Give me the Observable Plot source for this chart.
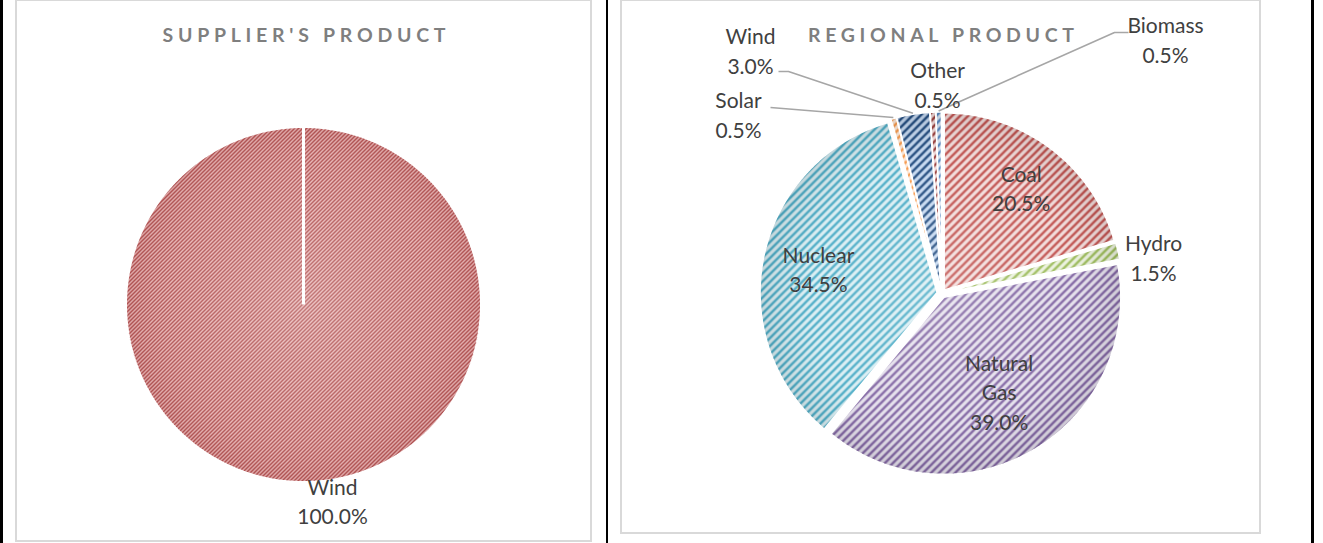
<!DOCTYPE html>
<html>
<head>
<meta charset="utf-8">
<script src="https://cdn.jsdelivr.net/npm/d3@7"></script>
<script src="https://cdn.jsdelivr.net/npm/@observablehq/plot@0.6"></script>
<style>
html, body { margin: 0; padding: 0; background: #fff; }
#page { position: relative; width: 1323px; height: 543px; overflow: hidden; font-family: Lato, "Open Sans", sans-serif; }
.vbar { position: absolute; top: 0; height: 543px; background: #000; }
.frame { position: absolute; box-sizing: border-box; border: 2px solid #d9d9d9; background: #fff; }
.chart { position: absolute; display: block; }
</style>
</head>
<body>
<div id="page"></div>
<script>
// ---------------- data ----------------
const chartTitles = ["SUPPLIER'S PRODUCT", "REGIONAL PRODUCT"];
const supplierCategories = ["Wind"];
const supplierValues = [100.0];
const regionalCategories = ["Coal", "Hydro", "Natural Gas", "Nuclear", "Solar", "Wind", "Other", "Biomass"];
const regionalValues = [20.5, 1.5, 39.0, 34.5, 0.5, 3.0, 0.5, 0.5];

// ---------------- styles ----------------
const supplierPalette = [["#8e1414", "#f6cfcf"]];
const regionalPalette = [
  ["#c0504d", "#f2dcdb"], // Coal
  ["#9bbb59", "#ebf1de"], // Hydro
  ["#8064a2", "#e5e0ec"], // Natural Gas
  ["#4bacc6", "#daeef3"], // Nuclear
  ["#f79646", "#fde9d9"], // Solar
  ["#1f497d", "#c6d9f1"], // Wind
  ["#953735", "#f2dcdb"], // Other
  ["#4f81bd", "#dbe5f1"]  // Biomass
];

const page = document.getElementById("page");
[[0, 3], [606, 2], [1311, 3]].forEach(([x, w]) => {
  const d = document.createElement("div");
  d.className = "vbar";
  d.style.left = x + "px";
  d.style.width = w + "px";
  page.appendChild(d);
});

function drawPie(cfg) {
  const {frame, cats, vals, cx, cy, r, explode, prefix, palette, period, lineW, strokeW, title, titleLen, labels, rim} = cfg;
  const arcs = d3.pie().sort(null).value(d => d)(vals);
  const rows = [];
  const geo = arcs.map((a, i) => {
    const mid = (a.startAngle + a.endAngle) / 2;
    const ox = cx + explode * Math.sin(mid), oy = cy - explode * Math.cos(mid);
    rows.push({name: cats[i], x: ox, y: oy});
    const n = Math.max(6, Math.ceil((a.endAngle - a.startAngle) / (Math.PI / 360)));
    for (let k = 0; k <= n; k++) {
      const t = a.startAngle + (a.endAngle - a.startAngle) * k / n;
      rows.push({name: cats[i], x: ox + r * Math.sin(t), y: oy - r * Math.cos(t)});
    }
    return {mid, ox, oy};
  });

  const labelRows = arcs.map((a, i) => {
    const L = labels[cats[i]];
    const text = cats[i].replace(" ", "\n") + "\n" + vals[i].toFixed(1) + "%";
    const mid = geo[i].mid;
    if (L.k != null) return {text, x: cx + L.k * r * Math.sin(mid) + (L.dx || 0), y: cy - L.k * r * Math.cos(mid) + (L.dy || 0)};
    return {text, x: L.x, y: L.y};
  });

  const leaderRows = [];
  arcs.forEach((a, i) => {
    const L = labels[cats[i]];
    if (!L.leader) return;
    L.leader.forEach(([x, y]) => leaderRows.push({id: i, x, y}));
    const g = geo[i];
    leaderRows.push({id: i, x: g.ox + (r + 1) * Math.sin(g.mid), y: g.oy - (r + 1) * Math.cos(g.mid)});
  });

  const fr = document.createElement("div");
  fr.className = "frame";
  Object.assign(fr.style, {left: frame.x + "px", top: frame.y + "px", width: frame.w + "px", height: frame.h + "px"});
  page.appendChild(fr);

  const svg = Plot.plot({
    width: frame.w,
    height: frame.h,
    margin: 0,
    x: {domain: [frame.x, frame.x + frame.w], range: [0, frame.w], axis: null},
    y: {domain: [frame.y, frame.y + frame.h], range: [0, frame.h], axis: null},
    color: {type: "ordinal", domain: cats, range: cats.map((c, i) => `url(#${prefix}${i})`)},
    style: {background: "transparent", overflow: "visible"},
    marks: [
      Plot.line(rows, {x: "x", y: "y", z: "name", fill: "name", stroke: "none", curve: "linear-closed"}),
      Plot.line(rows, {x: "x", y: "y", z: "name", fill: `url(#${prefix}shade)`, stroke: "none", curve: "linear-closed"}),
      Plot.line(rows, {x: "x", y: "y", z: "name", stroke: "#ffffff", strokeWidth: strokeW, curve: "linear-closed", strokeLinejoin: "miter"}),
      Plot.line(leaderRows, {x: "x", y: "y", z: "id", stroke: "#a6a6a6", strokeWidth: 1.6, strokeLinejoin: "miter", strokeLinecap: "butt"}),
      Plot.text(labelRows, {x: "x", y: "y", text: "text", fontSize: 21, fontFamily: "Lato", fill: "#404040", lineHeight: 1.4}),
      Plot.text([{t: title, x: frame.x + frame.w / 2, y: 35}], {x: "x", y: "y", text: "t", fontSize: 19.5, fontWeight: "bold", fontFamily: "Lato", fill: "#7f7f7f"})
    ]
  });
  svg.classList.add("chart");
  svg.style.left = frame.x + "px";
  svg.style.top = frame.y + "px";

  const defs = d3.select(svg).insert("defs", ":first-child");
  cats.forEach((c, i) => {
    const [fg, bg] = palette[i];
    const p = period;
    const pat = defs.append("pattern").attr("id", prefix + i).attr("patternUnits", "userSpaceOnUse").attr("width", p).attr("height", p);
    pat.append("rect").attr("width", p).attr("height", p).attr("fill", bg);
    pat.append("path")
      .attr("d", `M0,${p} L${p},0 M${-p / 2},${p / 2} L${p / 2},${-p / 2} M${p / 2},${p * 1.5} L${p * 1.5},${p / 2}`)
      .attr("stroke", fg).attr("stroke-width", lineW).attr("fill", "none");
  });
  const rg = defs.append("radialGradient").attr("id", prefix + "shade").attr("gradientUnits", "userSpaceOnUse")
    .attr("cx", cx - frame.x).attr("cy", cy - frame.y).attr("r", r + explode);
  rg.append("stop").attr("offset", "0%").attr("stop-color", "#fff").attr("stop-opacity", 0.2);
  rg.append("stop").attr("offset", "72%").attr("stop-color", "#fff").attr("stop-opacity", 0.05);
  rg.append("stop").attr("offset", "100%").attr("stop-color", rim).attr("stop-opacity", 0.1);

  svg.querySelectorAll("text").forEach(t => {
    if (t.textContent === title) {
      t.setAttribute("textLength", titleLen);
      t.setAttribute("lengthAdjust", "spacing");
    }
  });
  page.appendChild(svg);
}

drawPie({
  frame: {x: 15, y: -1, w: 577, h: 543},
  cats: supplierCategories, vals: supplierValues,
  cx: 303, cy: 304, r: 178, explode: 0,
  prefix: "sup", palette: supplierPalette, period: 4, lineW: 1.15, strokeW: 3, rim: "#7a1010",
  title: chartTitles[0], titleLen: 283,
  labels: {"Wind": {k: 1.1, dx: 29}}
});

drawPie({
  frame: {x: 620, y: -1, w: 641, h: 535},
  cats: regionalCategories, vals: regionalValues,
  cx: 941, cy: 293, r: 177, explode: 4.5,
  prefix: "reg", palette: regionalPalette, period: 8, lineW: 2.4, strokeW: 1.5, rim: "#000",
  title: chartTitles[1], titleLen: 266,
  labels: {
    "Coal": {k: 0.75},
    "Hydro": {x: 1153, y: 256},
    "Natural Gas": {k: 0.64},
    "Nuclear": {k: 0.71},
    "Solar": {x: 738, y: 113, leader: [[770, 107]]},
    "Wind": {x: 750, y: 49, leader: [[778, 71], [788, 71]]},
    "Other": {x: 937, y: 83},
    "Biomass": {x: 1165, y: 38, leader: [[1128, 32], [1114, 32]]}
  }
});
</script>
</body>
</html>
